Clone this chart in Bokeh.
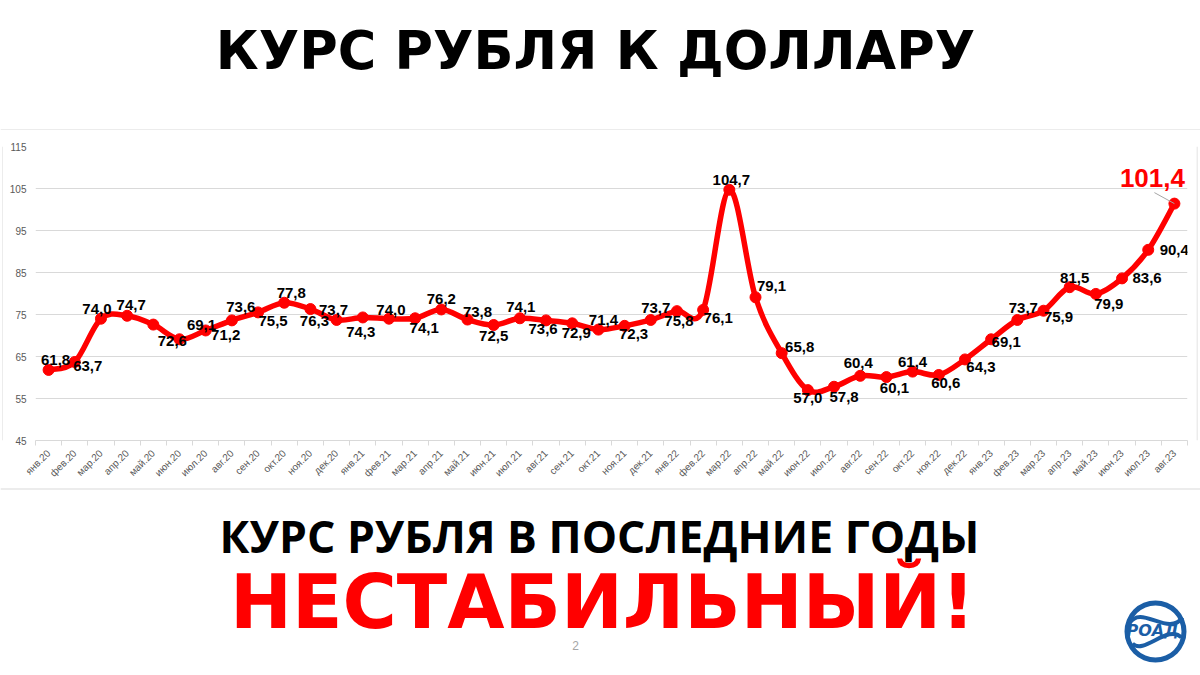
import math
from bokeh.plotting import figure
from bokeh.layouts import column, row
from bokeh.models import Range1d, FixedTicker, LinearAxis, Span
from bokeh.core.properties import value
from bokeh.embed import file_html
from bokeh.resources import INLINE

# ---------------- data ----------------
MONTHS = ["янв.20", "фев.20", "мар.20", "апр.20", "май.20", "июн.20", "июл.20", "авг.20",
          "сен.20", "окт.20", "ноя.20", "дек.20", "янв.21", "фев.21", "мар.21", "апр.21",
          "май.21", "июн.21", "июл.21", "авг.21", "сен.21", "окт.21", "ноя.21", "дек.21",
          "янв.22", "фев.22", "мар.22", "апр.22", "май.22", "июн.22", "июл.22", "авг.22",
          "сен.22", "окт.22", "ноя.22", "дек.22", "янв.23", "фев.23", "мар.23", "апр.23",
          "май.23", "июн.23", "июл.23", "авг.23"]
RATE = [61.8, 63.7, 74.0, 74.7, 72.6, 69.1, 71.2, 73.6, 75.5, 77.8, 76.3, 73.7,
        74.3, 74.0, 74.1, 76.2, 73.8, 72.5, 74.1, 73.6, 72.9, 71.4, 72.3, 73.7,
        75.8, 76.1, 104.7, 79.1, 65.8, 57.0, 57.8, 60.4, 60.1, 61.4, 60.6, 64.3,
        69.1, 73.7, 75.9, 81.5, 79.9, 83.6, 90.4, 101.4]
Y_TICKS = [45, 55, 65, 75, 85, 95, 105, 115]

TITLE = "КУРС РУБЛЯ К ДОЛЛАРУ"
SUB1 = "КУРС РУБЛЯ В ПОСЛЕДНИЕ ГОДЫ"
SUB2 = "НЕСТАБИЛЬНЫЙ!"
PAGE_NO = "2"
LOGO_TEXT = "РОАД"

# label placement (screen px, relative to the point)
LABEL_DX = [7, 13, -4, 4, 19, 22, 20, 9, 15, 7, 4, -3, -2, 2, 9, 0, 10, 0, 1, -3, 4, 5,
            9, 5, 2, 15, 2, 16, 18, 0, 10, -2, 8, 0, 7, 16, 15, 6, 15, 5, 13, 25, 26, -22]
LABEL_DY = [-10, 4, -10, -11, 16, -14, 5, -13, 9, -10, 12, -10, 15, -9, 10, -10, -8, 11, -11,
            9, 10, -10, 8, -12, 10, 8, -10, -11, -6, 8, 10, -13, 11, -10, 8, 8, 3, -12, 6, -9,
            10, 0, 0, -26]

RED = "#ff0000"
GRID = "#d9d9d9"
AXIS_TXT = "#595959"
BLUE = "#1b5ea6"
W = 1200

def blank(w, h):
    f = figure(width=w, height=h, x_range=Range1d(0, w), y_range=Range1d(0, h),
               output_backend="svg", toolbar_location=None, min_border=0,
               background_fill_color="white", border_fill_color="white")
    f.axis.visible = False
    f.grid.visible = False
    f.outline_line_color = None
    return f

# ---------------- top title ----------------
TOP_H = 130
ft = blank(W, TOP_H)
ft.text(x=[595], y=[80], text=[TITLE], text_font=value("DejaVu Sans"), text_font_style="bold",
        text_font_size="52.5px", text_color="black", text_align="center", text_baseline="alphabetic")
ft.add_layout(Span(location=0.5, dimension="width", line_color=GRID, line_width=1))

# ---------------- chart ----------------
n = len(RATE)
xs = [i + 0.5 for i in range(n)]
SL, SR, CH = 3, 4, 357
fc = figure(width=W - SL - SR, height=CH, x_range=Range1d(0, n),
            y_range=Range1d(Y_TICKS[0], Y_TICKS[-1]),
            output_backend="svg", toolbar_location=None,
            min_border_left=32, min_border_right=9, min_border_top=16, min_border_bottom=47,
            background_fill_color="white", border_fill_color="white",
            x_axis_location=None, y_axis_location=None)
fc.outline_line_color = None
fc.xgrid.visible = False
fc.ygrid.ticker = FixedTicker(ticks=Y_TICKS)
fc.ygrid.grid_line_color = GRID
fc.ygrid.grid_line_width = 1

# side strips carrying the chart box borders
sl = blank(SL, CH)
sl.add_layout(Span(location=2.5, dimension="height", line_color=GRID, line_width=1))
sr = blank(SR, CH)
sr.add_layout(Span(location=0.5, dimension="height", line_color=GRID, line_width=1))

yax = LinearAxis(ticker=FixedTicker(ticks=Y_TICKS))
yax.axis_line_color = None
yax.major_tick_line_color = None
yax.major_tick_out = 0
yax.major_tick_in = 0
yax.minor_tick_line_color = None
yax.major_label_text_font = "Liberation Sans"
yax.major_label_text_font_size = "10px"
yax.major_label_text_color = AXIS_TXT
yax.major_label_standoff = 9
fc.add_layout(yax, "left")

xax = LinearAxis(ticker=FixedTicker(ticks=xs, minor_ticks=list(range(n + 1))))
xax.major_label_overrides = {x: m for x, m in zip(xs, MONTHS)}
xax.axis_line_color = GRID
xax.major_tick_line_color = None
xax.major_tick_out = 0
xax.major_tick_in = 0
xax.minor_tick_line_color = GRID
xax.minor_tick_in = 0
xax.minor_tick_out = 5
xax.major_label_orientation = math.pi / 4
xax.major_label_text_font = "Liberation Sans"
xax.major_label_text_font_size = "10px"
xax.major_label_text_color = AXIS_TXT
xax.major_label_standoff = 6
fc.add_layout(xax, "below")

# smooth (Catmull-Rom style) bezier segments through the data points
x0, y0, x1, y1, cx0, cy0, cx1, cy1 = [], [], [], [], [], [], [], []
for i in range(n - 1):
    pa = (xs[max(i - 1, 0)], RATE[max(i - 1, 0)])
    p0 = (xs[i], RATE[i])
    p1 = (xs[i + 1], RATE[i + 1])
    pb = (xs[min(i + 2, n - 1)], RATE[min(i + 2, n - 1)])
    x0.append(p0[0]); y0.append(p0[1]); x1.append(p1[0]); y1.append(p1[1])
    cx0.append(p0[0] + (p1[0] - pa[0]) / 6); cy0.append(p0[1] + (p1[1] - pa[1]) / 6)
    cx1.append(p1[0] - (pb[0] - p0[0]) / 6); cy1.append(p1[1] - (pb[1] - p0[1]) / 6)
fc.bezier(x0=x0, y0=y0, x1=x1, y1=y1, cx0=cx0, cy0=cy0, cx1=cx1, cy1=cy1,
          line_color=RED, line_width=5.5, line_cap="round")
fc.scatter(xs, RATE, size=11, fill_color=RED, line_color=RED)

labels = [f"{v:.1f}".replace(".", ",") for v in RATE]
fc.text(x=xs[:-1], y=RATE[:-1], text=labels[:-1], x_offset=LABEL_DX[:-1], y_offset=LABEL_DY[:-1],
        text_font=value("Liberation Sans"), text_font_style="bold", text_font_size="15px",
        text_color="black", text_align="center", text_baseline="middle")
# leader line + highlighted last value
lx = xs[-1] + (LABEL_DX[-1] + 2) / 26.18
ly = RATE[-1] - (LABEL_DY[-1] + 15) / 4.2
fc.segment(x0=[xs[-1]], y0=[RATE[-1]], x1=[lx], y1=[ly], line_color="#a6a6a6", line_width=1)
fc.text(x=[xs[-1]], y=[RATE[-1]], text=[labels[-1]], x_offset=[LABEL_DX[-1]], y_offset=[LABEL_DY[-1]],
        text_font=value("Liberation Sans"), text_font_style="bold", text_font_size="26px",
        text_color=RED, text_align="center", text_baseline="middle")

# ---------------- bottom ----------------
BOT_H = 188
fb = blank(W, BOT_H)
fb.add_layout(Span(location=BOT_H - 1.5, dimension="width", line_color=GRID, line_width=1))
fb.text(x=[599], y=[140], text=[SUB1], text_font=value("Open Sans"), text_font_style="bold",
        text_font_size="44.5px", text_color="black", text_align="center", text_baseline="alphabetic")
fb.text(x=[602], y=[74], text=[SUB2], text_font=value("DejaVu Sans"), text_font_style="bold",
        text_font_size="74px", text_color=RED, text_align="center", text_baseline="alphabetic")
fb.text(x=[575], y=[30], text=[PAGE_NO], text_font=value("Liberation Sans"),
        text_font_size="12px", text_color="#a6a6a6", text_align="center", text_baseline="middle")
# logo
LX, LY = 1155, 44
fb.annulus(x=[LX], y=[LY], inner_radius=26, outer_radius=31, fill_color=BLUE, line_color=None)
fb.bezier(x0=[LX - 26, LX - 23], y0=[LY + 8, LY - 12], x1=[LX + 27, LX + 26], y1=[LY + 14, LY - 6],
          cx0=[LX - 15, LX - 12], cy0=[LY + 28, LY - 24], cx1=[LX + 13, LX + 13], cy1=[LY - 6, LY + 8],
          line_color=BLUE, line_width=4)
fb.text(x=[LX - 3], y=[LY + 1], text=[LOGO_TEXT], text_font=value("DejaVu Sans"),
        text_font_style="bold italic", text_font_size="16px", text_color=BLUE,
        text_align="center", text_baseline="middle")

layout = column(ft, row(sl, fc, sr), fb)
open("out.html", "w").write(file_html(layout, INLINE))
